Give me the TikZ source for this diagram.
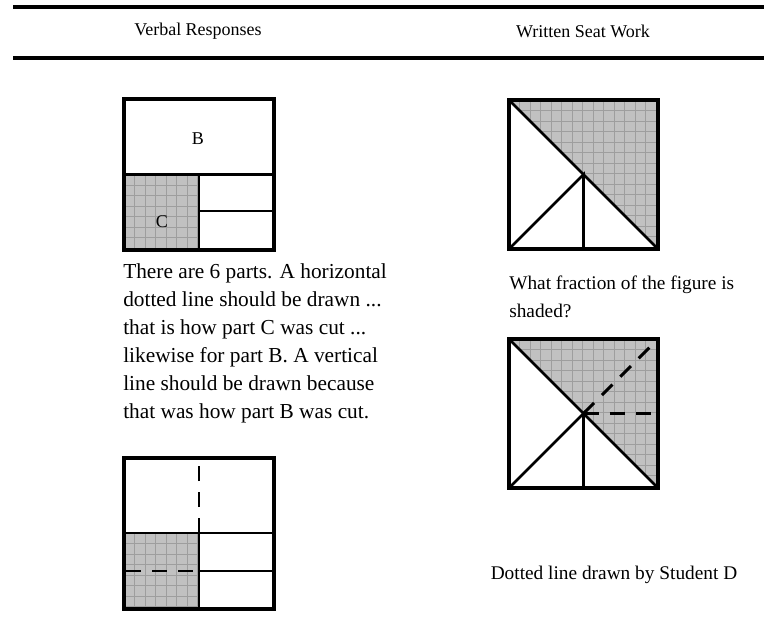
\documentclass[tikz,border=0pt]{standalone}
\usepackage{fontspec}
\setmainfont{Liberation Serif}
\definecolor{shadegray}{RGB}{193,193,193}
\definecolor{gridgray}{RGB}{158,158,158}
\begin{document}
\begin{tikzpicture}[x=0.75pt,y=-0.75pt,
  frame/.style={line width=2.3pt},
  inner/.style={line width=2pt},
  dashedline/.style={line width=2.2pt, dash pattern=on 11.25pt off 8.25pt},
  gridline/.style={draw=gridgray, line width=0.6pt},
  body/.style={font=\fontsize{16}{19}\selectfont, anchor=base west, inner sep=0pt},
  rbody/.style={font=\fontsize{14.5}{17}\selectfont, anchor=base west, inner sep=0pt},
  head/.style={font=\fontsize{13.5}{16}\selectfont, inner sep=0pt},
  lbl/.style={font=\fontsize{13.5}{16}\selectfont, inner sep=0pt},
  rulestyle/.style={line width=2.3pt}]
\useasboundingbox (0,0) rectangle (764,639);

% header rules
\coordinate (r1a) at (13,7);  \coordinate (r1b) at (764,7);
\coordinate (r2a) at (13,58); \coordinate (r2b) at (764,58);
\draw[rulestyle] (r1a) -- (r1b);
\draw[rulestyle] (r2a) -- (r2b);
\node[head] (h1) at (198,31) {Verbal Responses};
\node[head] (h2) at (583,31) {Written Seat Work};

% ---------- left top figure ----------
\begin{scope}
\clip (124,174.5) rectangle (199,250);
\fill[shadegray] (124,174.5) rectangle (199,250);
\foreach \i in {0,...,8} \draw[gridline] ({124+\i*10.5},174) -- ({124+\i*10.5},251);
\foreach \i in {0,...,8} \draw[gridline] (123,{174.5+\i*10.5}) -- (200,{174.5+\i*10.5});
\end{scope}
\coordinate (lt1) at (124,99);  \coordinate (lt2) at (274,250);
\draw[inner] (124,174.5) -- (274,174.5);
\draw[inner] (199,174.5) -- (199,250);
\draw[inner] (199,211) -- (274,211);
\draw[frame] (lt1) rectangle (lt2);
\node[lbl] (B) at (198,139) {B};
\node[lbl] (C) at (162,222) {C};

% left text
\node[body] (t1) at (123,278) {There are 6 parts. A horizontal};
\node[body] (t2) at (123,306) {dotted line should be drawn ...};
\node[body] (t3) at (123,334) {that is how part C was cut ...};
\node[body] (t4) at (123,362) {likewise for part B. A vertical};
\node[body] (t5) at (123,390) {line should be drawn because};
\node[body] (t6) at (123,418) {that was how part B was cut.};

% ---------- left bottom figure ----------
\begin{scope}
\clip (124,533) rectangle (199,609);
\fill[shadegray] (124,533) rectangle (199,609);
\foreach \i in {0,...,8} \draw[gridline] ({124+\i*10.5},532) -- ({124+\i*10.5},610);
\foreach \i in {0,...,8} \draw[gridline] (123,{533+\i*10.5}) -- (200,{533+\i*10.5});
\end{scope}
\coordinate (lb1) at (124,458);  \coordinate (lb2) at (274,609);
\draw[inner] (124,533) -- (274,533);
\draw[inner] (199,533) -- (199,609);
\draw[inner] (199,571) -- (274,571);
\draw[frame] (lb1) rectangle (lb2);
\coordinate (dv1) at (199,533); \coordinate (dv2) at (199,458);
\coordinate (dh1) at (126,571); \coordinate (dh2) at (199,571);
\draw[dashedline] (dv1) -- (dv2);
\draw[dashedline] (dh1) -- (dh2);

% ---------- right top figure ----------
\begin{scope}
\clip (509,100) -- (658,100) -- (658,249) -- cycle;
\fill[shadegray] (509,100) rectangle (658,249);
\foreach \i in {0,...,15} \draw[gridline] ({509+\i*10.5},99) -- ({509+\i*10.5},250);
\foreach \i in {0,...,15} \draw[gridline] (508,{100+\i*10.5}) -- (659,{100+\i*10.5});
\end{scope}
\coordinate (rt1) at (509,100); \coordinate (rt2) at (658,249);
\coordinate (rtc) at (583.5,174.5); \coordinate (rtbl) at (509,249);
\coordinate (rtbm) at (583.5,249);
\draw[inner] (rt1) -- (rt2);
\draw[inner] (rtbl) -- (rtc) -- (rtbm);
\draw[frame] (rt1) rectangle (rt2);

\node[rbody] (w1) at (509,289) {What fraction of the figure is};
\node[rbody] (w2) at (509,317) {shaded?};

% ---------- right bottom figure ----------
\begin{scope}
\clip (509,339) -- (658,339) -- (658,488) -- cycle;
\fill[shadegray] (509,339) rectangle (658,488);
\foreach \i in {0,...,15} \draw[gridline] ({509+\i*10.5},338) -- ({509+\i*10.5},489);
\foreach \i in {0,...,15} \draw[gridline] (508,{339+\i*10.5}) -- (659,{339+\i*10.5});
\end{scope}
\coordinate (rb1) at (509,339); \coordinate (rb2) at (658,488);
\coordinate (rbc) at (583.5,413.5); \coordinate (rbbl) at (509,488);
\coordinate (rbbm) at (583.5,488);
\coordinate (rbtr) at (655,342); \coordinate (rbr) at (656,413.5);
\draw[inner] (rb1) -- (rb2);
\draw[inner] (rbbl) -- (rbc) -- (rbbm);
\draw[dashedline] (rbc) -- (rbtr);
\draw[dashedline] (rbc) -- (rbr);
\draw[frame] (rb1) rectangle (rb2);

\node[rbody, anchor=base] (d1) at (614,579) {Dotted line drawn by Student D};
\end{tikzpicture}
\end{document}
